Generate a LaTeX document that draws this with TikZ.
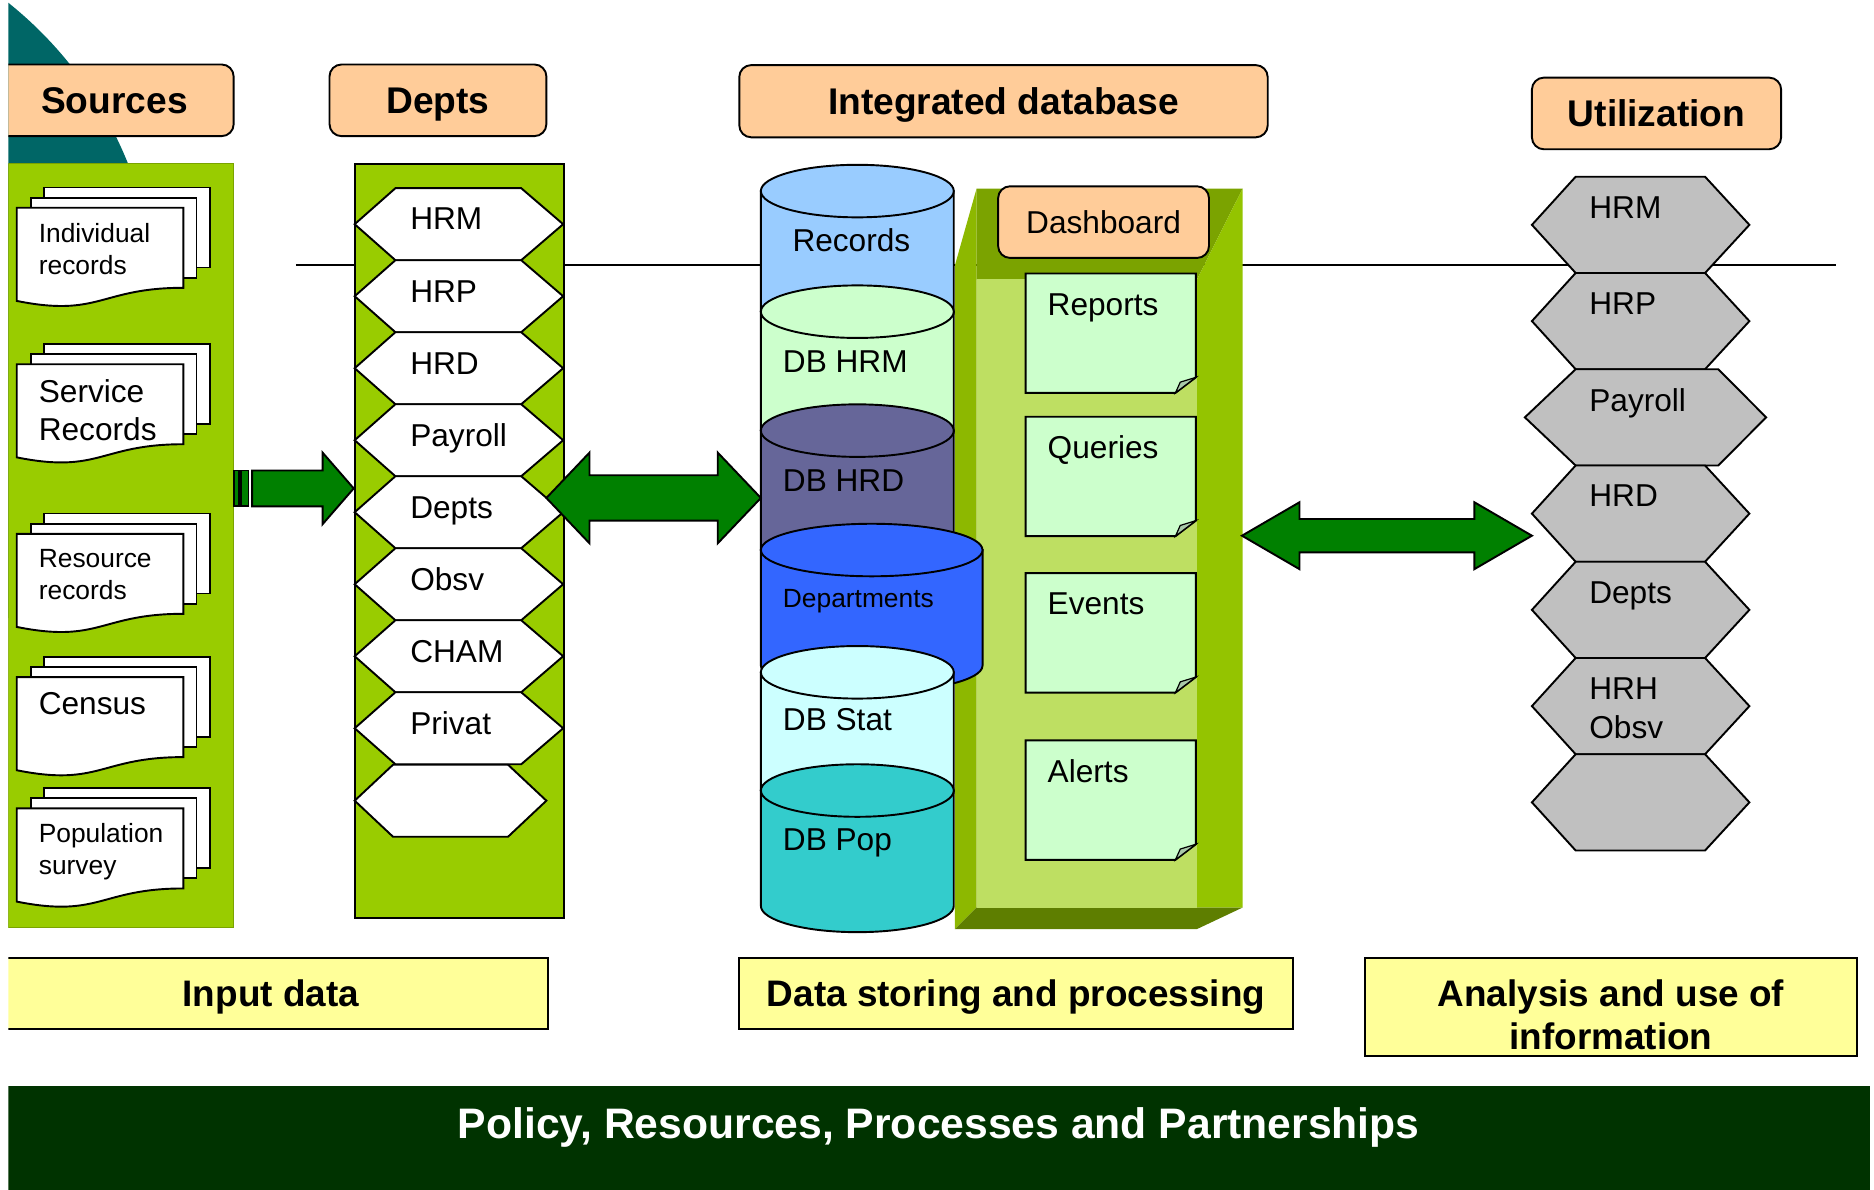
\documentclass[tikz,border=0pt]{standalone}
\usepackage{fontspec}
\setmainfont{Liberation Sans}
\usetikzlibrary{fit,calc,positioning}

\definecolor{peach}{HTML}{FFCC99}
\definecolor{leaf}{HTML}{99CC00}
\definecolor{tealdisk}{HTML}{006666}
\definecolor{arrowgreen}{HTML}{008000}
\definecolor{capyellow}{HTML}{FFFF99}
\definecolor{policygreen}{HTML}{003300}
\definecolor{dbrecords}{HTML}{99CCFF}
\definecolor{dbhrm}{HTML}{CCFFCC}
\definecolor{dbhrd}{HTML}{666699}
\definecolor{dbdept}{HTML}{3366FF}
\definecolor{dbstat}{HTML}{CCFFFF}
\definecolor{dbpop}{HTML}{33CCCC}
\definecolor{notegreen}{HTML}{CCFFCC}
\definecolor{notefold}{HTML}{A9C9A9}
\definecolor{hexgray}{HTML}{C0C0C0}
\definecolor{dashleft}{HTML}{8DB800}
\definecolor{dashtop}{HTML}{7BA300}
\definecolor{dashright}{HTML}{94C400}
\definecolor{dashbottom}{HTML}{5E7E00}
\definecolor{dashface}{HTML}{BEDF62}

\tikzset{
  outline/.style={draw=black, line width=0.8pt},
  titlebox/.style={outline, fill=peach, rounded corners=5pt, inner sep=0pt},
  titletext/.style={inner sep=0pt, text height=11.1pt, text depth=0pt,
    font=\fontsize{15.5}{18}\selectfont\bfseries},
  capbox/.style={outline, fill=capyellow, inner sep=0pt},
  captext/.style={inner sep=0pt, anchor=north, align=center,
    font=\fontsize{15.4}{18}\selectfont\bfseries},
  lbl/.style={inner sep=0pt, anchor=base west, font=\fontsize{13.2}{16.5}\selectfont},
  smalllbl/.style={inner sep=0pt, anchor=base west, font=\fontsize{11}{13.3}\selectfont},
  blockarrow/.style={outline, fill=arrowgreen},
  page/.style={outline, fill=white},
}

\begin{document}
\begin{tikzpicture}[x=0.5pt, y=-0.4983pt]
  \useasboundingbox (0,0) rectangle (1564,996);
  \begin{scope}
  \clip (7,0) rectangle (1564,996);

  % backdrop
  \fill [tealdisk] (-200,260) circle [radius=330.5];
  \node [titlebox, fit={(-10,54) (195,114)}] (srcttl) {};
  \node [titletext] (srcttltxt) at (95.5,84) {Sources};

  \coordinate (rowL) at (247,221.8);
  \coordinate (rowR) at (1532,221.8);
  \draw [line width=1.1pt] (rowL) -- (rowR);

  % input sources
  \node [fill=leaf, draw=leaf!80!black, line width=0.4pt, inner sep=0pt, fit={(7,137) (195,777)}] (srcpanel) {};
  \foreach \t/\txt/\fs/\bs [count=\i] in {174/{Individual\\records}/11/13.3, 305/{Service\\Records}/13.2/16,
      447/{Resource\\records}/11/13.3, 567/Census/13.2/16, 677/{Population\\survey}/11/13.3}
  {
    \filldraw [page] (37,\t-17) rectangle (175,\t+50);
    \filldraw [page] (26,\t-8.5) rectangle (164,\t+58.5);
    \filldraw [page] (14,\t) -- (153,\t) -- (153,\t+67) .. controls (83.5,\t+67) and (83.5,\t+92) .. (14,\t+78) -- cycle;
    \node [inner sep=0pt, anchor=north west, align=left, font=\fontsize{\fs}{\bs}\selectfont] (doc\i) at (32,\t+12.5) {\txt};
  }

  % departments column
  \node [titlebox, fit={(275,54) (456,114)}] (deptttl) {};
  \node [titletext] (deptttltxt) at (deptttl.center) {Depts};
  \node [outline, fill=leaf, inner sep=0pt, fit={(296,137) (471,769)}] (deptpanel) {};
  \foreach \lab [count=\i from 0] in {HRM,HRP,HRD,Payroll,Depts,Obsv,CHAM,Privat}
  {
    \pgfmathsetmacro\yt{157.6+60.3*\i}
    \filldraw [outline, fill=white] (296,\yt+30.15) -- (330,\yt) -- (435,\yt) -- (470,\yt+30.15)
      -- (435,\yt+60.3) -- (330,\yt+60.3) -- cycle;
    \node [lbl] (dept\i) at (342,\yt+35) {\lab};
  }
  \filldraw [outline, fill=white] (296,670.5) -- (328,640.4) -- (424,640.4) -- (456,670.5)
    -- (424,700.7) -- (328,700.7) -- cycle;

  \coordinate (lvlA) at (0,409);
  \coordinate (a1tail) at (srcpanel.east |- lvlA);
  \coordinate (a1tip) at (deptpanel.west |- lvlA);
  \filldraw [blockarrow] ($(a1tail)+(0,-15)$) rectangle ($(a1tail)+(4,15)$);
  \filldraw [blockarrow] ($(a1tail)+(6,-15)$) rectangle ($(a1tail)+(12,15)$);
  \filldraw [blockarrow] ($(a1tail)+(15,-15)$) -- ($(a1tip)+(-26,-15)$) -- ($(a1tip)+(-26,-30)$) -- (a1tip)
    -- ($(a1tip)+(-26,30)$) -- ($(a1tip)+(-26,15)$) -- ($(a1tail)+(15,15)$) -- cycle;

  % dashboard
  \fill [dashleft] (797,222) -- (815,158) -- (815,760) -- (797,778) -- cycle;
  \fill [dashtop] (815,158) -- (1037,158) -- (999,234) -- (815,234) -- cycle;
  \fill [dashright] (1037,158) -- (1037,760) -- (999,760) -- (999,234) -- cycle;
  \fill [dashbottom] (797,778) -- (815,760) -- (1037,760) -- (999,778) -- cycle;
  \fill [dashface] (815,234) rectangle (999,760);
  \node [titlebox, fit={(833,156) (1009,216)}] (dashttl) {};
  \node [titletext, text height=9.45pt, font=\fontsize{13.2}{16}\selectfont] (dashttltxt) at (dashttl.center) {Dashboard};
  \foreach \t/\lab [count=\i] in {229/Reports, 349/Queries, 480/Events, 620/Alerts}
  {
    \filldraw [outline, fill=notegreen] (856,\t) -- (998,\t) -- (998,\t+87) -- (981,\t+100) -- (856,\t+100) -- cycle;
    \filldraw [outline, fill=notefold, line width=0.5pt] (981,\t+100) -- (998,\t+87) -- (985,\t+91) -- cycle;
    \node [lbl] (note\i) at (874,\t+35) {\lab};
  }

  % database stack
  \node [titlebox, fit={(617,54.5) (1058,115)}] (dbttl) {};
  \node [titletext] (dbttltxt) at (dbttl.center) {Integrated database};
  \foreach \cx/\rx/\ya/\yb/\col in {715.5/80.5/160/261/dbrecords, 715.5/80.5/261/360.6/dbhrm,
      715.5/80.5/360.6/460.6/dbhrd, 727.5/92.5/460.6/557.4/dbdept,
      715.5/80.5/563/662/dbstat, 715.5/80.5/662/758.6/dbpop}
  {
    \filldraw [outline, fill=\col] (\cx-\rx,\ya) -- (\cx-\rx,\yb)
      arc [start angle=180, end angle=0, x radius=\rx, y radius=22] -- (\cx+\rx,\ya) -- cycle;
    \filldraw [outline, fill=\col] (\cx,\ya) ellipse [x radius=\rx, y radius=22];
  }
  \node [lbl] (cyl1) at (661,211) {Records};
  \node [lbl] (cyl2) at (653,312.3) {DB HRM};
  \node [lbl] (cyl3) at (653,412) {DB HRD};
  \node [smalllbl] (cyl4) at (653,508.5) {Departments};
  \node [lbl] (cyl5) at (653,612) {DB Stat};
  \node [lbl] (cyl6) at (653,712.4) {DB Pop};

  \coordinate (a2l) at (456,417);
  \coordinate (a2r) at (635,417);
  \filldraw [blockarrow] (a2l) -- ($(a2l)+(36,-38)$) -- ($(a2l)+(36,-19)$) -- ($(a2r)+(-36,-19)$)
    -- ($(a2r)+(-36,-38)$) -- (a2r) -- ($(a2r)+(-36,38)$) -- ($(a2r)+(-36,19)$)
    -- ($(a2l)+(36,19)$) -- ($(a2l)+(36,38)$) -- cycle;

  \coordinate (a3l) at (1036.5,448.6);
  \coordinate (a3r) at (1278.5,448.6);
  \filldraw [blockarrow] (a3l) -- ($(a3l)+(48,-28)$) -- ($(a3l)+(48,-14)$) -- ($(a3r)+(-48,-14)$)
    -- ($(a3r)+(-48,-28)$) -- (a3r) -- ($(a3r)+(-48,28)$) -- ($(a3r)+(-48,14)$)
    -- ($(a3l)+(48,14)$) -- ($(a3l)+(48,28)$) -- cycle;

  % utilization column
  \node [titlebox, fit={(1278.5,65) (1486.5,125)}] (usettl) {};
  \node [titletext] (usettltxt) at (usettl.center) {Utilization};
  \foreach \lab/\pl/\fr/\pr [count=\i from 0] in {HRM/1278.5/1423/1460, HRP/1278.5/1423/1460,
      Payroll/1272.6/1434/1474, HRD/1278.5/1423/1460, Depts/1278.5/1423/1460,
      {HRH\\Obsv}/1278.5/1423/1460, {}/1278.5/1423/1460}
  {
    \pgfmathsetmacro\yt{148+80.6*\i}
    \filldraw [outline, fill=hexgray] (\pl,\yt+40.3) -- (1315,\yt) -- (\fr,\yt) -- (\pr,\yt+40.3)
      -- (\fr,\yt+80.6) -- (1315,\yt+80.6) -- cycle;
    \node [lbl, anchor=north west, align=left] (use\i) at (1326,\yt+16) {\lab};
  }

  % captions
  \node [capbox, fit={(0,802) (457,862)}] (capin) {};
  \node [capbox, fit={(617,802) (1079,862)}] (capstore) {};
  \node [capbox, fit={(1139,802) (1550,884)}] (capuse) {};
  \node [captext] (capintxt) at (226,820) {Input data};
  \node [captext] (capstoretxt) at (848,820) {Data storing and processing};
  \node [captext] (capusetxt) at (1344.5,820) {Analysis and use of\\information};

  \node [fill=policygreen, inner sep=0pt, fit={(0,909.6) (1561,1000)}] (policy) {};
  \node [inner sep=0pt, anchor=base, text=white, font=\fontsize{17.8}{21}\selectfont\bfseries] (policytxt)
    at (783.5,953.5) {Policy, Resources, Processes and Partnerships};
  \end{scope}
\end{tikzpicture}
\end{document}
